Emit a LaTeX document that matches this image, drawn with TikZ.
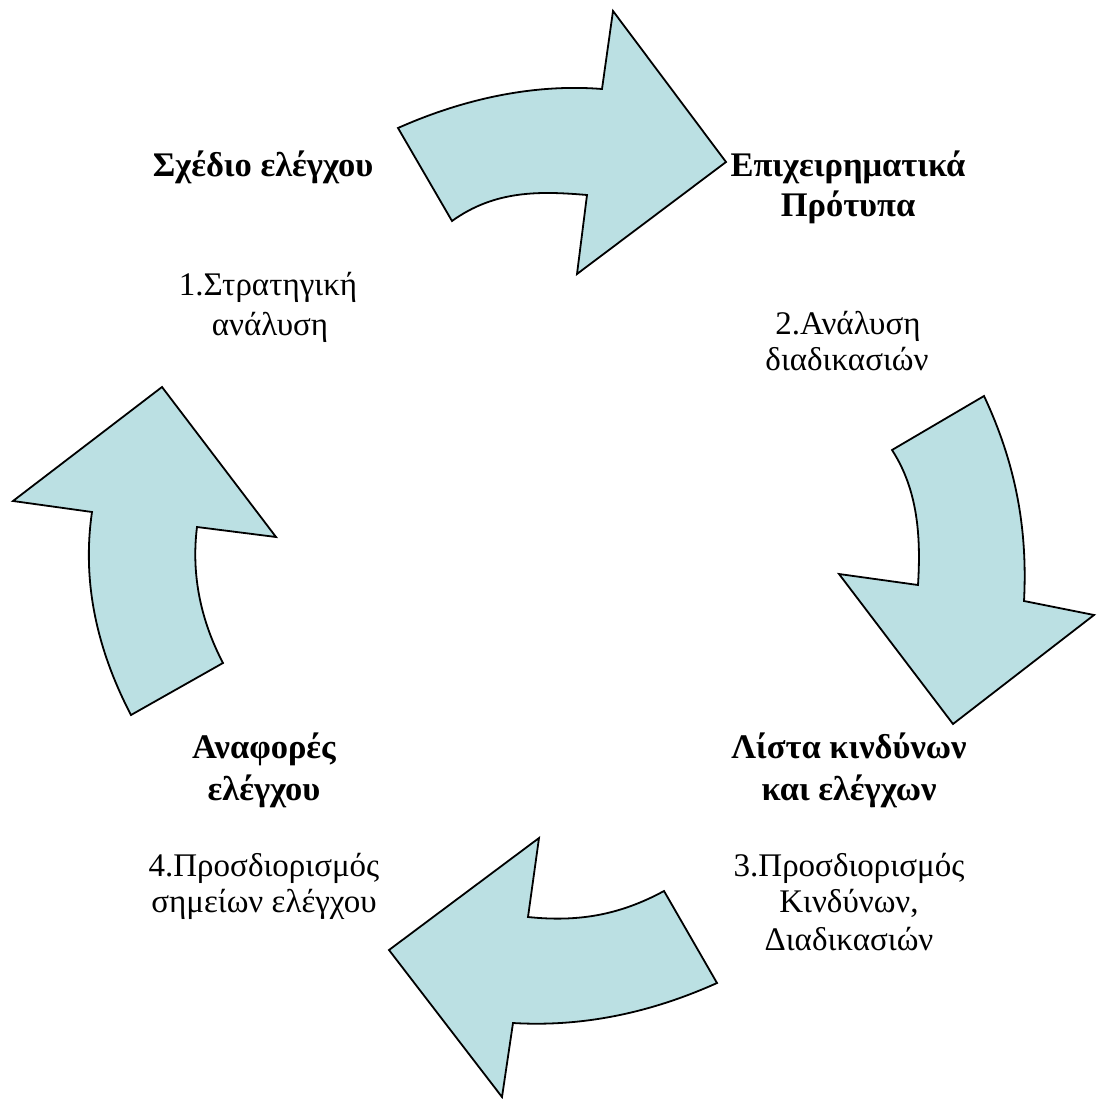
\documentclass[tikz,border=0pt]{standalone}
\usepackage{fontspec}
\setmainfont{Liberation Serif}
\definecolor{arrowfill}{HTML}{BBE0E3}
\begin{document}
\begin{tikzpicture}[x=1pt,y=-1pt,
  blockarrow/.style={fill=arrowfill,draw=black,line width=1.8pt,line join=miter},
  titletext/.style={anchor=base,inner sep=0pt,font=\fontsize{34.5}{40}\selectfont\bfseries},
  steptext/.style={anchor=base,inner sep=0pt,font=\fontsize{33}{38}\selectfont}]
\useasboundingbox[fill=white] (0,0) rectangle (1096,1099);
% top arrow
\draw[blockarrow] (398,128) .. controls (470,96) and (540,84) .. (602,89)
  -- (613,11) -- (726,162) -- (577,274) -- (587,195)
  .. controls (540,191) and (495,190) .. (452,221) -- cycle;
% right arrow
\draw[blockarrow] (984,396) -- (892,450) .. controls (918,490) and (921,537) .. (918,585)
  -- (839,574) -- (953,724) -- (1094,615) -- (1024,601)
  .. controls (1028,525) and (1014,460) .. (984,396) -- cycle;
% bottom arrow
\draw[blockarrow] (664,891) -- (717,983) .. controls (648,1014) and (580,1027) .. (513,1023)
  -- (502,1097) -- (389,950) -- (539,838) -- (528,917)
  .. controls (576,922) and (618,916) .. (664,891) -- cycle;
% left arrow
\draw[blockarrow] (162,387) -- (276,537) -- (197,527) .. controls (191,575) and (201,621) .. (223,663)
  -- (131,715) .. controls (96,648) and (82,580) .. (92,512) -- (13,501) -- cycle;
% texts
\node[titletext] (t1) at (263,177) {Σχέδιο ελέγχου};
\node[steptext] (s1a) at (268,295) {1.Στρατηγική};
\node[steptext] (s1b) at (270,335) {ανάλυση};
\node[titletext] (t2a) at (848,177) {Επιχειρηματικά};
\node[titletext] (t2b) at (848,217) {Πρότυπα};
\node[steptext] (s2a) at (848,334) {2.Ανάλυση};
\node[steptext] (s2b) at (847,370) {διαδικασιών};
\node[titletext] (t3a) at (849,758) {Λίστα κινδύνων};
\node[titletext] (t3b) at (849,800) {και ελέγχων};
\node[steptext] (s3a) at (849,876) {3.Προσδιορισμός};
\node[steptext] (s3b) at (849,912) {Κινδύνων,};
\node[steptext] (s3c) at (849,950) {Διαδικασιών};
\node[titletext] (t4a) at (264,758) {Αναφορές};
\node[titletext] (t4b) at (264,800) {ελέγχου};
\node[steptext] (s4a) at (264,876) {4.Προσδιορισμός};
\node[steptext] (s4b) at (264,912) {σημείων ελέγχου};
\end{tikzpicture}
\end{document}
